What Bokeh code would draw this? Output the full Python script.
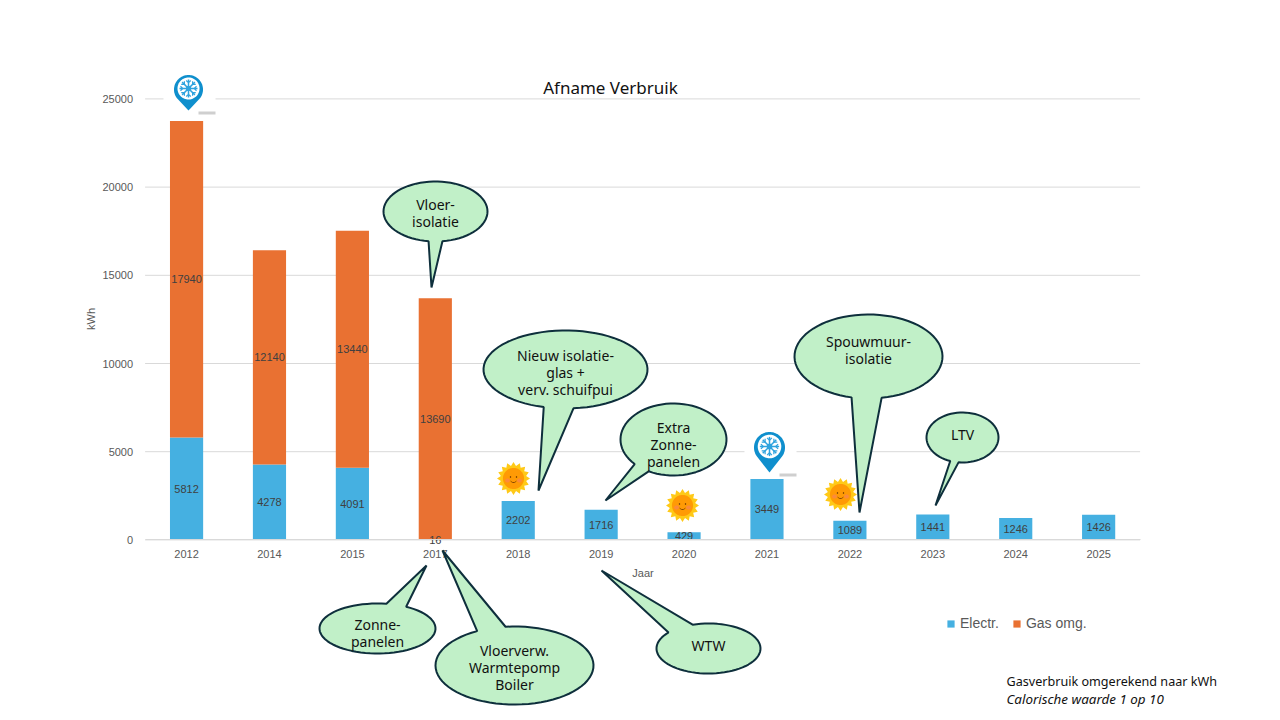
import numpy as np
from bokeh.plotting import figure
from bokeh.models import ColumnDataSource, PolyAnnotation, Label, LinearAxis, FixedTicker
from bokeh.core.properties import value
from bokeh.embed import file_html
from bokeh.resources import INLINE

years = ["2012", "2014", "2015", "2017", "2018", "2019", "2020", "2021", "2022", "2023", "2024", "2025"]
electr = [5812, 4278, 4091, 16, 2202, 1716, 429, 3449, 1089, 1441, 1246, 1426]
gas = [17940, 12140, 13440, 13690, 0, 0, 0, 0, 0, 0, 0, 0]
series = ["Electr.", "Gas omg."]
colors = ["#45B0E1", "#E97132"]
y_ticks = [0, 5000, 10000, 15000, 20000, 25000]
TXT = "#595959"
SANS = "Liberation Sans"
CALL = "Noto Sans"

W, H = 1280, 720
# plot area inside the page, in pixels
L, R, T, B = 144.6, 1139.6, 98.4, 539.4
ux = (R - L) / len(years)
uy = 25000 / (B - T)
x_pos = list(range(len(years)))

p = figure(x_range=(-0.5 - L / ux, len(years) - 0.5 + (W - R) / ux),
           y_range=(-(H - B) * uy, 25000 + T * uy), width=W, height=H, output_backend="svg",
           toolbar_location=None, min_border=0, x_axis_location=None, y_axis_location=None)
p.outline_line_color = None
p.grid.visible = False

p.segment(x0=[-0.5] * len(y_ticks), x1=[len(years) - 0.5] * len(y_ticks), y0=y_ticks, y1=y_ticks,
          line_color="#D9D9D9", line_width=1, level="underlay")

xax = LinearAxis(fixed_location=0, ticker=FixedTicker(ticks=x_pos),
                 major_label_overrides={i: y for i, y in zip(x_pos, years)},
                 bounds=(-0.5, len(years) - 0.5), axis_label="Jaar")
yax = LinearAxis(fixed_location=-0.5, ticker=FixedTicker(ticks=y_ticks), bounds=(0, 25000),
                 axis_label="kWh")
yax.formatter.use_scientific = False
xax.axis_line_color = "#D9D9D9"
yax.axis_line_color = None
xax.major_label_standoff = 4
yax.major_label_standoff = 6
xax.axis_label_standoff = 6
yax.axis_label_standoff = 3
for ax in (xax, yax):
    ax.major_tick_line_color = None
    ax.minor_tick_line_color = None
    ax.major_label_text_font = SANS
    ax.major_label_text_font_size = "11px"
    ax.major_label_text_color = TXT
    ax.axis_label_text_font = SANS
    ax.axis_label_text_font_size = "11px"
    ax.axis_label_text_font_style = "normal"
    ax.axis_label_text_color = TXT
p.add_layout(xax, "below")
p.add_layout(yax, "left")

src = ColumnDataSource(dict(x=x_pos, electr=electr, gas=gas))
p.vbar_stack(["electr", "gas"], x="x", width=0.4, color=colors, source=src,
             legend_label=series, line_color=None)
p.legend.location = (946, 89)
p.legend.orientation = "horizontal"
p.legend.background_fill_alpha = 0
p.legend.border_line_color = None
p.legend.label_text_font = SANS
p.legend.label_text_font_size = "14px"
p.legend.label_text_color = TXT
p.legend.glyph_width = 9
p.legend.glyph_height = 9
p.legend.label_standoff = 5
p.legend.spacing = 13

lab_y = [e / 2 for e in electr] + [e + g / 2 for e, g in zip(electr, gas) if g]
lab_x = x_pos + [i for i, g in zip(x_pos, gas) if g]
lab_t = [str(e) for e in electr] + [str(g) for g in gas if g]
p.text(x=lab_x, y=lab_y, text=lab_t, text_align="center", text_baseline="middle",
       text_font=value(SANS), text_font_size="11px", text_color="#404040")


def poly(xs, ys, fill, line=None, lw=0):
    p.add_layout(PolyAnnotation(xs=[float(v) for v in xs], ys=[float(v) for v in ys],
                                xs_units="canvas", ys_units="canvas", fill_color=fill, fill_alpha=1,
                                line_color=line, line_width=lw, line_alpha=1 if line else 0))


def ell(cx, cy, rx, ry, a0=0.0, a1=2 * np.pi, n=72):
    a = np.linspace(a0, a1, n)
    return cx + rx * np.cos(a), cy + ry * np.sin(a)


def text(x, y, s, size=14, color="#111111", font=CALL, align="center", style="normal"):
    p.add_layout(Label(x=x, y=y, x_units="canvas", y_units="canvas", text=s, text_font=font,
                       text_font_size=f"{size}px", text_color=color, text_align=align,
                       text_baseline="middle", text_font_style=style))


def callout(cx, cy, rx, ry, tip, b1, b2, lines, ly):
    a1 = np.arctan2((b1[1] - cy) / ry, (b1[0] - cx) / rx)
    a2 = np.arctan2((b2[1] - cy) / ry, (b2[0] - cx) / rx)
    while a1 < a2:
        a1 += 2 * np.pi
    xs, ys = ell(cx, cy, rx, ry, a2, a1)
    if a1 - a2 < np.pi:
        a2 += 2 * np.pi
        xs, ys = ell(cx, cy, rx, ry, a1, a2)
    poly(list(xs) + [tip[0]], list(ys) + [tip[1]], "#C1F0C8", "#0E2F3C", 2)
    for i, s in enumerate(lines):
        text(cx, ly - 1 + i * 17, s)


def spoke(x0, y0, x1, y1, w, color):
    d = np.hypot(x1 - x0, y1 - y0)
    nx, ny = -(y1 - y0) / d * w / 2, (x1 - x0) / d * w / 2
    poly([x0 + nx, x1 + nx, x1 - nx, x0 - nx], [y0 + ny, y1 + ny, y1 - ny, y0 - ny], color)


def flake(cx, cy, r, color):
    for k in range(8):
        a = k * np.pi / 4
        spoke(cx, cy, cx + r * np.cos(a), cy + r * np.sin(a), 1.5, color)
        mx, my = cx + 0.65 * r * np.cos(a), cy + 0.65 * r * np.sin(a)
        for da in (0.8, -0.8):
            spoke(mx, my, mx + 0.35 * r * np.cos(a + da), my + 0.35 * r * np.sin(a + da), 1.2, color)
    xs, ys = ell(cx, cy, r * 0.3, r * 0.3)
    poly(xs, ys, color)


def pin(tx, ty, hy, r):
    poly([tx - 25, tx + 27, tx + 27, tx - 25], [ty - 38, ty - 38, ty + 1, ty + 1], "#FFFFFF")
    poly([tx + 10, tx + 27, tx + 27, tx + 10], [ty + 1, ty + 1, ty + 4, ty + 4], "#CFCFCF")
    xs, ys = ell(tx, hy, r, r, np.pi * 0.8, np.pi * 2.2)
    poly(list(xs) + [tx], list(ys) + [ty], "#0F8FCD")
    xs, ys = ell(tx, hy - 1, r * 0.76, r * 0.76)
    poly(xs, ys, "#FFFFFF")
    flake(tx, hy - 1, r * 0.62, "#2FA3DE")


def sun(cx, cy, r=16.5):
    a = np.linspace(0, 2 * np.pi, 33)
    rr = np.where(np.arange(33) % 2 == 0, r, r * 0.78)
    poly(cx + rr * np.cos(a), cy + rr * np.sin(a), "#FFC917")
    xs, ys = ell(cx, cy, r * 0.64, r * 0.64)
    poly(xs, ys, "#FF9A05")
    for sx in (-1, 1):
        xs, ys = ell(cx + sx * 6, cy + 2, 2.4, 2.0)
        poly(xs, ys, "#FB8A3C")
        xs, ys = ell(cx + sx * 3, cy - 1.5, 0.7, 1.0)
        poly(xs, ys, "#8A4A00")
    xo, yo = ell(cx, cy + 0.5, 3.5, 4, 0.15 * np.pi, 0.85 * np.pi, 12)
    xi, yi = ell(cx, cy + 0.5, 3.2, 3.1, 0.85 * np.pi, 0.15 * np.pi, 12)
    poly(list(xo) + list(xi), list(yo) + list(yi), "#8A4A00")


pin(188, 110, 89, 14.5)
pin(769, 472, 447, 15.5)
for c in [(513, 478), (682, 505), (840, 494)]:
    sun(*c)

text(610, 87, "Afname Verbruik", size=17)

callout(435, 211, 52, 30, (431, 287), (428, 241), (442, 241), ["Vloer-", "isolatie"], 205)
callout(565, 369, 82, 39, (538, 490), (543, 407), (573, 408), ["Nieuw isolatie-", "glas +", "verv. schuifpui"], 356)
callout(673, 439, 53, 36, (605, 500), (635, 463), (648, 471), ["Extra", "Zonne-", "panelen"], 428)
callout(868, 356, 74, 42, (859, 512), (851, 397), (881, 397), ["Spouwmuur-", "isolatie"], 342)
callout(962, 437, 36, 25, (935, 505), (950, 460), (958, 462), ["LTV"], 435)
callout(377, 628, 58, 25, (426, 565), (386, 603), (406, 606), ["Zonne-", "panelen"], 625)
callout(514, 665, 79, 39, (442, 550), (476, 630), (505, 626), ["Vloerverw.", "Warmtepomp", "Boiler"], 651)
callout(708, 648, 52, 25, (601, 570), (668, 632), (692, 624), ["WTW"], 646)

text(1006, 681, "Gasverbruik omgerekend naar kWh", size=12.6, align="left")
text(1006, 698, "Calorische waarde 1 op 10", size=13.4, align="left", style="italic")

open("out.html", "w").write(file_html(p, INLINE))
